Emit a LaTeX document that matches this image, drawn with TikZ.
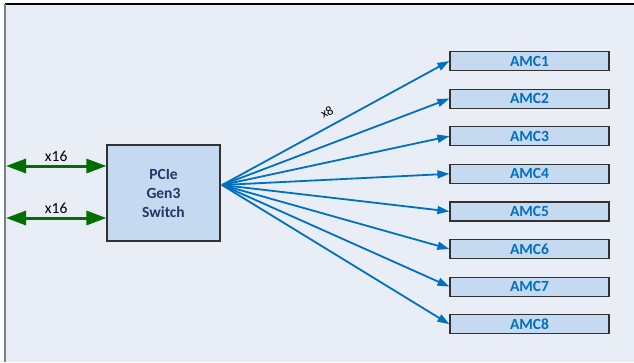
\documentclass[tikz,border=0pt]{standalone}
\usepackage{fontspec}
\setmainfont{Carlito}
\usetikzlibrary{arrows.meta}
\definecolor{bg}{RGB}{233,237,246}
\definecolor{boxfill}{RGB}{197,217,241}
\definecolor{boxline}{RGB}{50,50,50}
\definecolor{navy}{RGB}{31,56,100}
\definecolor{amcblue}{RGB}{0,112,192}
\definecolor{linkgreen}{RGB}{0,110,0}
\tikzset{
  switchbox/.style={draw=boxline, fill=boxfill, line width=1.2pt, minimum width=113pt, minimum height=96pt, inner sep=0pt, align=center, text=navy, font=\bfseries\fontsize{15.5}{19}\selectfont},
  amcbox/.style={draw=boxline, fill=boxfill, line width=1.2pt, minimum width=159pt, minimum height=19pt, inner sep=0pt, text=amcblue, font=\bfseries\fontsize{15.5}{18}\selectfont},
  bluelink/.style={draw=amcblue, line width=1.8pt, -{Triangle[length=12pt,width=8pt]}},
  greenlink/.style={draw=linkgreen, line width=3pt, {Triangle[length=20pt,width=14pt]}-{Triangle[length=20pt,width=14pt]}, shorten <=0pt, shorten >=0pt},
  lbl/.style={font=\fontsize{15.5}{18}\selectfont, text=black, inner sep=1pt}
}
\begin{document}
\begin{tikzpicture}[x=1pt,y=-1pt]
\useasboundingbox (0,0) rectangle (634,362);
\fill[bg] (5,4) rectangle (634,362);
\draw[black, line width=1.5pt] (5,4) -- (634,4);
\draw[gray, line width=1.5pt] (5,4) -- (5,362);

\node[switchbox] (sw) at (163.5,193) {PCIe\\Gen3\\Switch};
\coordinate (src) at (222,185);

\foreach \i/\y in {1/61,2/98.6,3/136.2,4/173.8,5/211.4,6/249,7/286.6,8/324.2}{
  \node[amcbox] (a\i) at (529.5,\y) {AMC\i};
  \draw[bluelink] (src) -- (a\i.west);
}

\coordinate (g1) at (6,166);
\coordinate (g2) at (6,218);
\draw[greenlink] (g1) -- (sw.west |- g1) node[midway, above=2pt, lbl] {x16};
\draw[greenlink] (g2) -- (sw.west |- g2) node[midway, above=2pt, lbl] {x16};

\node[lbl, rotate=28.6, font=\fontsize{13}{15}\selectfont] (x8) at (327,112) {x8};
\end{tikzpicture}
\end{document}
